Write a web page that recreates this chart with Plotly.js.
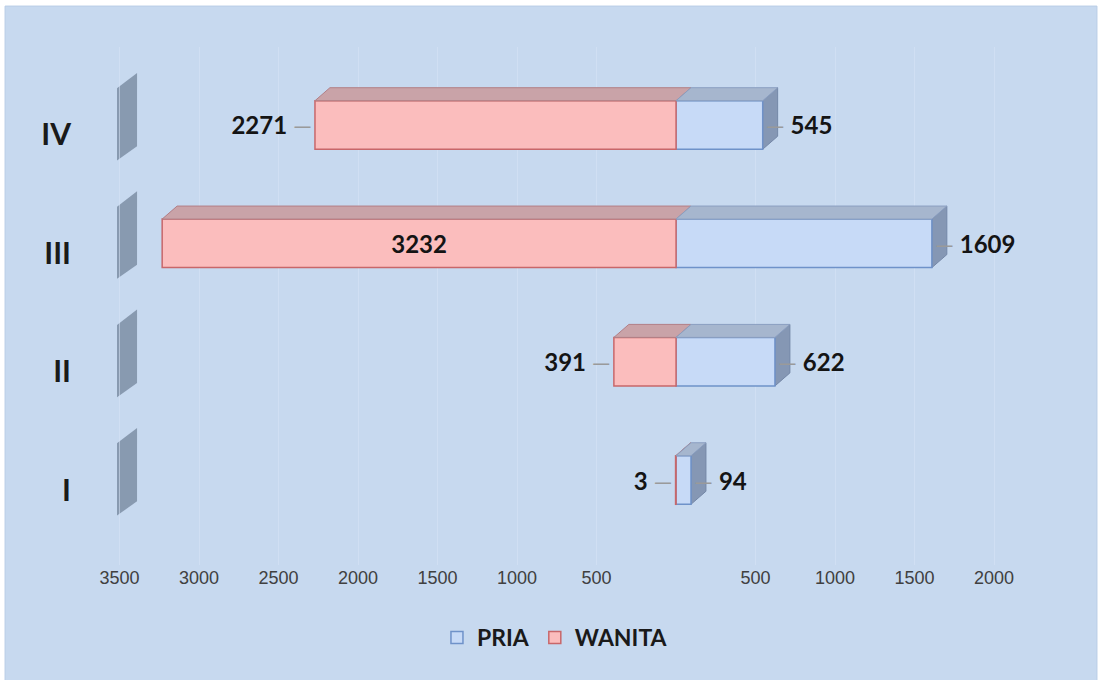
<!DOCTYPE html>
<html>
<head>
<meta charset="utf-8">
<script src="https://cdn.plot.ly/plotly-3.0.1.min.js"></script>
<style>html,body{margin:0;padding:0;background:#fff;}#chart{width:1102px;height:680px;}</style>
</head>
<body>
<div id="chart"></div>
<script>
// ---- data ----
const categories = ['I', 'II', 'III', 'IV'];
const pria = [94, 622, 1609, 545];
const wanita = [3, 391, 3232, 2271];
const tickValues = [-3500, -3000, -2500, -2000, -1500, -1000, -500, 500, 1000, 1500, 2000];
const tickLabels = ['3500', '3000', '2500', '2000', '1500', '1000', '500', '500', '1000', '1500', '2000'];
const wanitaTextPos = ['outside', 'outside', 'inside', 'outside'];

// ---- style ----
const FONT = 'Lato, Carlito, "Open Sans", sans-serif';
const yIdx = categories.map((c, i) => i);
const BARW = 0.41;
const DX = 94;      // depth offset in x units
const DY = 0.11;    // depth offset in y units
const dash = "<span style='color:#9a9a9a;font-weight:normal'>\u2014</span>";

const tracePria = {
  type: 'bar', orientation: 'h', name: 'PRIA',
  y: yIdx, x: pria, width: BARW,
  marker: {color: '#c7daf7', line: {color: '#6f92c9', width: 1.5}},
  text: pria.map(v => dash + ' ' + v),
  textposition: 'outside',
  textfont: {family: FONT, size: 24, color: '#141414', weight: 'bold'},
  constraintext: 'none', cliponaxis: false, hoverinfo: 'skip'
};
const traceWanita = {
  type: 'bar', orientation: 'h', name: 'WANITA',
  y: yIdx, x: wanita.map(v => -v), width: BARW,
  marker: {color: '#fbbdbd', line: {color: '#c8676a', width: 1.5}},
  text: wanita.map((v, i) => wanitaTextPos[i] === 'inside' ? String(v) : v + ' ' + dash),
  textposition: wanitaTextPos,
  insidetextanchor: 'middle',
  textfont: {family: FONT, size: 24, color: '#141414', weight: 'bold'},
  insidetextfont: {family: FONT, size: 24, color: '#141414', weight: 'bold'},
  outsidetextfont: {family: FONT, size: 24, color: '#141414', weight: 'bold'},
  constraintext: 'none', cliponaxis: false, hoverinfo: 'skip'
};

// 3D faces built from the data
const shapes = [];
// chart area background
shapes.push({type: 'rect', xref: 'paper', yref: 'paper', x0: -0.101, x1: 1.0606, y0: -0.23, y1: 1.079,
  fillcolor: '#c7d9ef', line: {color: '#b9cde6', width: 1}, layer: 'below'});
// wall slabs by the category labels
yIdx.forEach(yc => {
  shapes.push({type: 'path', xref: 'paper', yref: 'y', layer: 'below',
    path: `M 0.0181 ${yc + 0.31} L 0.0394 ${yc + 0.44} L 0.0394 ${yc - 0.18} L 0.0181 ${yc - 0.30} Z`,
    fillcolor: '#7d8ea5', line: {width: 0}, opacity: 0.85});
});
yIdx.forEach((yc, i) => {
  const yt = yc + BARW / 2, yb = yc - BARW / 2;
  const w = wanita[i], p = pria[i];
  // WANITA top face
  shapes.push({type: 'path', xref: 'x', yref: 'y', layer: 'above',
    path: `M ${-w} ${yt} L 0 ${yt} L ${DX} ${yt + DY} L ${-w + DX} ${yt + DY} Z`,
    fillcolor: '#c9a3a8', line: {color: '#b27f86', width: 1}});
  // PRIA top face
  shapes.push({type: 'path', xref: 'x', yref: 'y', layer: 'above',
    path: `M 0 ${yt} L ${p} ${yt} L ${p + DX} ${yt + DY} L ${DX} ${yt + DY} Z`,
    fillcolor: '#a6b6ce', line: {color: '#8a9ec0', width: 1}});
  // PRIA side face
  shapes.push({type: 'path', xref: 'x', yref: 'y', layer: 'below',
    path: `M ${p} ${yb} L ${p} ${yt} L ${p + DX} ${yt + DY} L ${p + DX} ${yb + DY} Z`,
    fillcolor: '#8597b4', line: {color: '#7487a7', width: 1}});
});

const layout = {
  width: 1102, height: 680,
  margin: {l: 100, r: 62, t: 47, b: 115},
  paper_bgcolor: '#ffffff',
  plot_bgcolor: 'rgba(0,0,0,0)',
  barmode: 'relative',
  showlegend: true,
  legend: {orientation: 'h', x: 0.484, xanchor: 'center', y: -0.14, yanchor: 'middle',
    bgcolor: 'rgba(0,0,0,0)', traceorder: 'normal',
    font: {family: FONT, size: 23, color: '#1a1a1a', weight: 'bold'}},
  xaxis: {
    range: [-3623, 2289], tickvals: tickValues, ticktext: tickLabels,
    showgrid: true, gridcolor: 'rgba(215,228,245,0.55)', gridwidth: 1,
    zeroline: false, showline: false, ticks: '',
    tickfont: {family: '"Liberation Sans Narrow", "Arial Narrow", sans-serif', size: 18, color: '#404040'},
    fixedrange: true
  },
  yaxis: {
    range: [-0.718, 3.659], tickvals: yIdx, ticktext: categories,
    showgrid: false, zeroline: false, showline: false,
    ticks: 'outside', ticklen: 22, tickcolor: 'rgba(0,0,0,0)',
    ticklabelshift: 10,
    tickfont: {family: FONT, size: 30, color: '#1a1a1a', weight: 'bold'},
    fixedrange: true
  },
  shapes: shapes
};

Plotly.newPlot('chart', [tracePria, traceWanita], layout, {displayModeBar: false, staticPlot: true});
</script>
</body>
</html>
